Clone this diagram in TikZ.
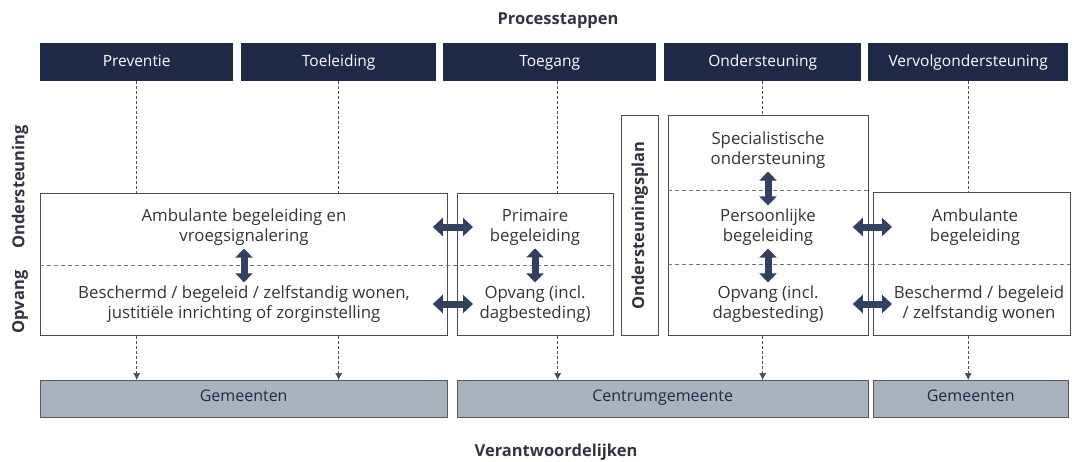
\documentclass[tikz,border=0pt]{standalone}
\usepackage{fontspec}
\setmainfont{Open Sans}
\usetikzlibrary{arrows.meta}

\definecolor{navy}{HTML}{1E2A45}
\definecolor{pijlblauw}{HTML}{34405F}
\definecolor{verantw}{HTML}{A9B3C0}
\definecolor{tekstgrijs}{HTML}{30353F}

\begin{document}
\begin{tikzpicture}[x=1pt,y=-1pt,
  stap/.style={fill=navy,text=white,minimum height=38pt,inner sep=0pt,anchor=north west,
    text height=11pt,text depth=3pt,font=\fontsize{15.5}{18}\selectfont},
  blok/.style={draw=black!70,fill=white,line width=0.8pt,inner sep=0pt,anchor=north west},
  verant/.style={draw=black!65,fill=verantw,minimum height=37pt,inner sep=0pt,anchor=north west,
    text=navy,text height=10pt,text depth=4pt,font=\fontsize{16}{18}\selectfont},
  tekst/.style={align=center,text=tekstgrijs,inner sep=0pt,font=\fontsize{16.8}{20}\selectfont},
  kop/.style={text=tekstgrijs,font=\bfseries\fontsize{16.5}{18}\selectfont},
  lijn/.style={draw=black!70,dash pattern=on 3pt off 2pt,line width=0.6pt,
    -{Latex[length=7pt,width=7pt]}},
  scheiding/.style={draw=black!55,dash pattern=on 4pt off 3pt,line width=0.6pt},
  vpijl/.style={pijlblauw,line width=7pt,shorten <=3pt,shorten >=3pt,
    {Triangle[length=9pt,width=17pt]}-{Triangle[length=9pt,width=17pt]}},
  hpijl/.style={pijlblauw,line width=7pt,
    {Triangle[length=10pt,width=18pt]}-{Triangle[length=10pt,width=18pt]}}]
  \useasboundingbox (0,0) rectangle (1074,461);

  % processtappen
  \node[kop] (titel) at (558,21) {Processtappen};
  \node[stap,minimum width=193pt] (prev) at (40,43) {Preventie};
  \node[stap,minimum width=195pt] (toel) at (241,43) {Toeleiding};
  \node[stap,minimum width=213pt] (toeg) at (443,43) {Toegang};
  \node[stap,minimum width=197pt] (onds) at (664,43) {Ondersteuning};
  \node[stap,minimum width=200pt] (verv) at (868,43) {Vervolgondersteuning};

  % verantwoordelijken
  \node[verant,minimum width=407pt] (gem1) at (40,380) {Gemeenten};
  \node[verant,minimum width=411pt] (cgem) at (457,380) {Centrumgemeente};
  \node[verant,minimum width=195pt] (gem2) at (873,380) {Gemeenten};
  \node[kop] (verantw) at (556,452) {Verantwoordelijken};

  \draw[lijn] (prev.south) -- (prev.south |- gem1.north);
  \draw[lijn] (toel.south) -- (toel.south |- gem1.north);
  \draw[lijn] ([xshift=8pt]toeg.south) -- ([xshift=8pt]toeg.south |- cgem.north);
  \draw[lijn] (onds.south) -- (onds.south |- cgem.north);
  \draw[lijn] (verv.south) -- (verv.south |- gem2.north);

  % blokken
  \node[blok,minimum width=407pt,minimum height=142pt] (lblok) at (40,193) {};
  \node[blok,minimum width=156pt,minimum height=142pt] (tblok) at (457,193) {};
  \node[blok,minimum width=37pt,minimum height=220pt] (plan) at (621,115) {};
  \node[blok,minimum width=200pt,minimum height=220pt] (oblok) at (668,115) {};
  \node[blok,minimum width=197pt,minimum height=143pt] (vblok) at (873,192) {};

  \draw[scheiding] (40,265) -- (613,265);
  \draw[scheiding] (668,190) -- (868,190);
  \draw[scheiding] (668,264) -- (1070,264);

  \node[kop,rotate=90] at (plan.center) {Ondersteuningsplan};
  \node[kop,rotate=90] (zijond) at (20,187) {Ondersteuning};
  \node[kop,rotate=90] (zijopv) at (20,302) {Opvang};

  % teksten
  \node[tekst] (amb1) at (244,227) {Ambulante begeleiding en\\vroegsignalering};
  \node[tekst] (besch1) at (244,304) {Beschermd / begeleid / zelfstandig wonen,\\justitiële inrichting of zorginstelling};
  \node[tekst] (prim) at (535,227) {Primaire\\begeleiding};
  \node[tekst] (opv1) at (535,304) {Opvang (incl.\\dagbesteding)};
  \node[tekst] (spec) at (768,150) {Specialistische\\ondersteuning};
  \node[tekst] (pers) at (768,227) {Persoonlijke\\begeleiding};
  \node[tekst] (opv2) at (768,304) {Opvang (incl.\\dagbesteding)};
  \node[tekst] (amb2) at (975,227) {Ambulante\\begeleiding};
  \node[tekst] (besch2) at (979,304) {Beschermd / begeleid\\/ zelfstandig wonen};

  % pijlen
  \draw[vpijl] (amb1.south) -- (besch1.north);
  \draw[vpijl] (prim.south) -- (opv1.north);
  \draw[vpijl] (spec.south) -- (pers.north);
  \draw[vpijl] (pers.south) -- (opv2.north);
  \draw[hpijl] ([xshift=-15pt]lblok.east |- amb1) -- ([xshift=16pt]tblok.west |- amb1);
  \draw[hpijl] ([xshift=-15pt]lblok.east |- besch1) -- ([xshift=16pt]tblok.west |- besch1);
  \draw[hpijl] ([xshift=-16pt]oblok.east |- pers) -- ([xshift=19pt]vblok.west |- pers);
  \draw[hpijl] ([xshift=-16pt]oblok.east |- opv2) -- ([xshift=19pt]vblok.west |- opv2);
\end{tikzpicture}
\end{document}
